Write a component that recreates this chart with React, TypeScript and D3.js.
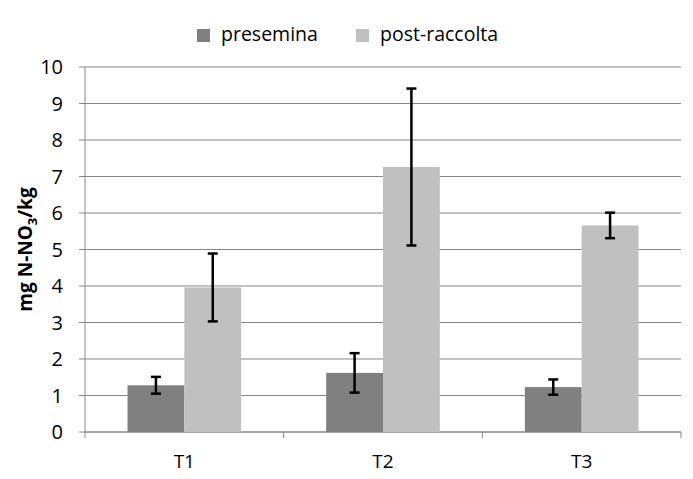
import React, { useEffect, useRef } from "react"
import * as d3 from "d3"

// data
const categories = ["T1", "T2", "T3"]
const seriesNames = ["presemina", "post-raccolta"]
const presemina = [1.28, 1.62, 1.23]
const preseminaErr = [0.23, 0.54, 0.21]
const postRaccolta = [3.96, 7.26, 5.66]
const postRaccoltaErr = [0.93, 2.15, 0.35]
const yTicks = [0, 1, 2, 3, 4, 5, 6, 7, 8, 9, 10]

const colors = ["#808080", "#c0c0c0"]
const FONT = "'Open Sans', sans-serif"

interface Bar {
  cat: string
  series: string
  value: number
  err: number
}

const App: React.FC = () => {
  const svgRef = useRef<SVGSVGElement | null>(null)

  useEffect(() => {
    if (!svgRef.current) return
    const svg = d3.select(svgRef.current)
    svg.selectAll("*").remove()

    const W = 693
    const H = 479
    const margin = { top: 67, right: 12, bottom: 47, left: 85 }
    const width = W - margin.left - margin.right
    const height = H - margin.top - margin.bottom

    const g = svg.append("g").attr("transform", `translate(${margin.left},${margin.top})`)

    const groupFrac = 0.572
    const x0 = d3.scaleBand().domain(categories).range([0, width]).padding(0)
    const x1 = d3.scaleBand().domain(seriesNames).range([0, x0.bandwidth() * groupFrac]).padding(0)
    const groupOffset = (x0.bandwidth() * (1 - groupFrac)) / 2
    const y = d3.scaleLinear().domain([0, 10]).range([height, 0])

    // gridlines
    g.append("g")
      .selectAll("line")
      .data(yTicks)
      .enter()
      .append("line")
      .attr("x1", -6)
      .attr("x2", width)
      .attr("y1", (d) => y(d))
      .attr("y2", (d) => y(d))
      .attr("stroke", "#878787")
      .attr("stroke-width", 1)

    // y axis line
    g.append("line")
      .attr("x1", 0)
      .attr("x2", 0)
      .attr("y1", 0)
      .attr("y2", height)
      .attr("stroke", "#878787")

    // y tick labels
    g.append("g")
      .selectAll("text")
      .data(yTicks)
      .enter()
      .append("text")
      .attr("x", -22)
      .attr("y", (d) => y(d))
      .attr("dy", "0.36em")
      .attr("text-anchor", "end")
      .style("font-family", FONT)
      .style("font-size", "20px")
      .attr("fill", "#000")
      .text((d) => d)

    // x axis
    g.append("line")
      .attr("x1", 0)
      .attr("x2", width)
      .attr("y1", height)
      .attr("y2", height)
      .attr("stroke", "#878787")
    const bounds = [0, ...categories.map((c) => (x0(c) ?? 0) + x0.bandwidth())]
    g.append("g")
      .selectAll("line")
      .data(bounds)
      .enter()
      .append("line")
      .attr("x1", (d) => d)
      .attr("x2", (d) => d)
      .attr("y1", height)
      .attr("y2", height + 6)
      .attr("stroke", "#878787")

    g.append("g")
      .selectAll("text")
      .data(categories)
      .enter()
      .append("text")
      .attr("x", (d) => (x0(d) ?? 0) + x0.bandwidth() / 2)
      .attr("y", height + 36)
      .attr("text-anchor", "middle")
      .style("font-family", FONT)
      .style("font-size", "19px")
      .text((d) => d)

    // bars
    const bars: Bar[] = []
    categories.forEach((c, i) => {
      bars.push({ cat: c, series: seriesNames[0], value: presemina[i], err: preseminaErr[i] })
      bars.push({ cat: c, series: seriesNames[1], value: postRaccolta[i], err: postRaccoltaErr[i] })
    })
    const color = d3.scaleOrdinal<string>().domain(seriesNames).range(colors)
    const bx = (d: Bar) => (x0(d.cat) ?? 0) + groupOffset + (x1(d.series) ?? 0)

    g.append("g")
      .selectAll("rect")
      .data(bars)
      .enter()
      .append("rect")
      .attr("x", (d) => bx(d))
      .attr("y", (d) => y(d.value))
      .attr("width", x1.bandwidth())
      .attr("height", (d) => height - y(d.value))
      .attr("fill", (d) => color(d.series))

    // error bars
    const eb = g.append("g").attr("stroke", "#000").attr("stroke-width", 2.5)
    bars.forEach((d) => {
      const cx = bx(d) + x1.bandwidth() / 2
      const top = y(d.value + d.err)
      const bot = y(d.value - d.err)
      eb.append("line").attr("x1", cx).attr("x2", cx).attr("y1", top).attr("y2", bot)
      eb.append("line").attr("x1", cx - 5).attr("x2", cx + 5).attr("y1", top).attr("y2", top)
      eb.append("line").attr("x1", cx - 5).attr("x2", cx + 5).attr("y1", bot).attr("y2", bot)
    })

    // y axis title
    svg
      .append("text")
      .attr("transform", `translate(32, ${margin.top + height / 2}) rotate(-90)`)
      .attr("text-anchor", "middle")
      .style("font-family", FONT)
      .style("font-size", "19px")
      .style("font-weight", "bold")
      .call((t) => {
        t.append("tspan").text("mg N-NO")
        t.append("tspan").attr("dy", 5).style("font-size", "13px").text("3")
        t.append("tspan").attr("dy", -5).text("/kg")
      })

    // legend
    const legendX = [197, 356]
    seriesNames.forEach((s, i) => {
      const lg = svg.append("g").attr("transform", `translate(${legendX[i]}, 29)`)
      lg.append("rect").attr("width", 13).attr("height", 13).attr("fill", color(s))
      lg.append("text")
        .attr("x", 24)
        .attr("y", 12)
        .style("font-family", FONT)
        .style("font-size", "19.5px")
        .text(s)
    })
  }, [])

  return (
    <div style={{ width: 693, height: 479, margin: -8, background: "#fff" }}>
      <svg ref={svgRef} width={693} height={479} style={{ display: "block" }}></svg>
    </div>
  )
}

export default App
